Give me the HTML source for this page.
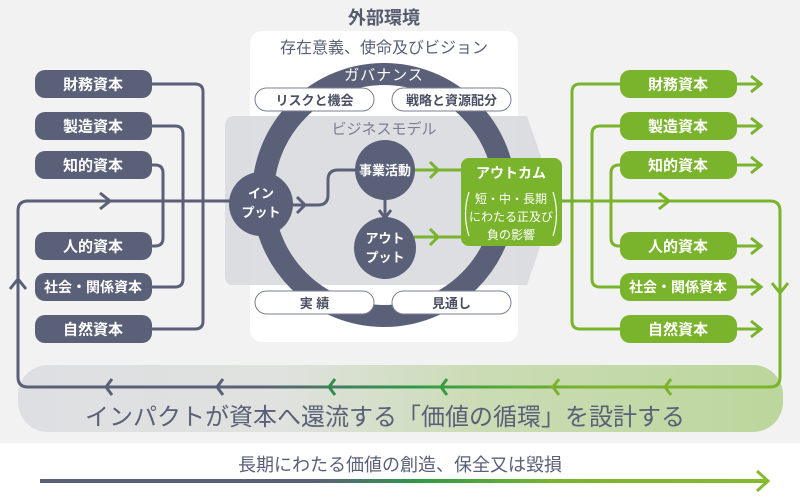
<!DOCTYPE html>
<html><head><meta charset="utf-8"><style>
html,body{margin:0;padding:0;background:#fff}
svg{display:block}
text{font-family:"Liberation Sans","Noto Sans CJK JP",sans-serif}
</style></head><body>
<svg width="800" height="500" viewBox="0 0 800 500" xmlns="http://www.w3.org/2000/svg">
<defs>
<linearGradient id="loop" x1="18" y1="0" x2="780" y2="0" gradientUnits="userSpaceOnUse">
<stop offset="0" stop-color="#5a6078"/><stop offset="0.32" stop-color="#5a6078"/>
<stop offset="0.52" stop-color="#2e9a48"/><stop offset="0.75" stop-color="#7ab32c"/><stop offset="1" stop-color="#7ab32c"/>
</linearGradient>
<linearGradient id="strip" x1="18" y1="0" x2="783" y2="0" gradientUnits="userSpaceOnUse">
<stop offset="0" stop-color="#dedfe3"/><stop offset="0.35" stop-color="#dfe2de"/>
<stop offset="0.6" stop-color="#cbdcb5"/><stop offset="1" stop-color="#bcd69c"/>
</linearGradient>
<linearGradient id="barr" x1="40" y1="0" x2="770" y2="0" gradientUnits="userSpaceOnUse">
<stop offset="0" stop-color="#5a6078"/><stop offset="0.38" stop-color="#5a6078"/>
<stop offset="0.52" stop-color="#2e9a48"/><stop offset="0.7" stop-color="#7ab32c"/><stop offset="1" stop-color="#86bb30"/>
</linearGradient>
</defs>
<rect x="0" y="0" width="800" height="443" fill="#f2f2f2"/>
<text x="384" y="24" font-size="18" font-weight="bold" fill="#555b6e" text-anchor="middle">外部環境</text>
<rect x="250" y="31" width="268" height="311" rx="12" fill="#fff"/>
<text x="384" y="53" font-size="16" fill="#5a6078" text-anchor="middle">存在意義、使命及びビジョン</text>

<rect x="18" y="365" width="765" height="67" rx="30" fill="url(#strip)"/>

<path d="M235,116 L527,116 L556,200 L527,285 L232,285 Q225,285 225,275 L225,126 Q225,116 235,116 Z" fill="#d9dadf" opacity="0.9"/>

<circle cx="384" cy="195" r="121" fill="none" stroke="#5a6078" stroke-width="22"/>
<text x="384" y="80" font-size="15" fill="#fff" text-anchor="middle" letter-spacing="1">ガバナンス</text>
<text x="384" y="134" font-size="15" fill="#7a7f90" text-anchor="middle">ビジネスモデル</text>

<rect x="255" y="88" width="119" height="23" rx="11.5" fill="#fff" stroke="#7a7f90" stroke-width="1"/>
<text x="314.5" y="105" font-size="13" font-weight="bold" fill="#4a4f62" text-anchor="middle">リスクと機会</text>
<rect x="392" y="88" width="119" height="23" rx="11.5" fill="#fff" stroke="#7a7f90" stroke-width="1"/>
<text x="451.5" y="105" font-size="13" font-weight="bold" fill="#4a4f62" text-anchor="middle">戦略と資源配分</text>
<rect x="255" y="291" width="119" height="23" rx="11.5" fill="#fff" stroke="#7a7f90" stroke-width="1"/>
<text x="314.5" y="308" font-size="13" font-weight="bold" fill="#4a4f62" text-anchor="middle">実 績</text>
<rect x="392" y="291" width="119" height="23" rx="11.5" fill="#fff" stroke="#7a7f90" stroke-width="1"/>
<text x="451.5" y="308" font-size="13" font-weight="bold" fill="#4a4f62" text-anchor="middle">見通し</text>

<g fill="none" stroke="#5a6078" stroke-width="3">
<path d="M150,84 L195,84 Q203,84 203,92 L203,321 Q203,329 195,329 L150,329"/>
<path d="M150,126 L175,126 Q183,126 183,134 L183,279 Q183,287 175,287 L150,287"/>
<path d="M150,165 L155,165 Q163,165 163,173 L163,238 Q163,246 155,246 L150,246"/>
</g>
<g fill="#5a6078">
<rect x="35" y="70" width="117" height="28" rx="10"/>
<rect x="35" y="112" width="117" height="28" rx="10"/>
<rect x="35" y="151" width="117" height="28" rx="10"/>
<rect x="35" y="232" width="117" height="28" rx="10"/>
<rect x="35" y="273" width="117" height="28" rx="10"/>
<rect x="35" y="315" width="117" height="28" rx="10"/>
</g>
<g fill="#fff" font-size="15" font-weight="bold" text-anchor="middle">
<text x="93" y="89.5">財務資本</text><text x="93" y="131.5">製造資本</text><text x="93" y="170.5">知的資本</text>
<text x="93" y="251.5">人的資本</text><text x="93" y="292" font-size="14">社会・関係資本</text><text x="93" y="334.5">自然資本</text>
</g>

<g fill="none" stroke="#7ab32c" stroke-width="3">
<path d="M625,84 L580,84 Q572,84 572,92 L572,321 Q572,329 580,329 L625,329"/>
<path d="M625,126 L600,126 Q592,126 592,134 L592,279 Q592,287 600,287 L625,287"/>
<path d="M625,165 L619,165 Q611,165 611,173 L611,238 Q611,246 619,246 L625,246"/>
<path d="M735,84 H762 M735,126 H762 M735,165 H762 M735,246 H762 M735,287 H762 M735,329 H762"/>
<path d="M751,76 L761,84 L751,92 M751,118 L761,126 L751,134 M751,157 L761,165 L751,173 M751,238 L761,246 L751,254 M751,279 L761,287 L751,295 M751,321 L761,329 L751,337"/>
</g>
<g fill="#7ab32c">
<rect x="620" y="70" width="117" height="28" rx="10"/>
<rect x="620" y="112" width="117" height="28" rx="10"/>
<rect x="620" y="151" width="117" height="28" rx="10"/>
<rect x="620" y="232" width="117" height="28" rx="10"/>
<rect x="620" y="273" width="117" height="28" rx="10"/>
<rect x="620" y="315" width="117" height="28" rx="10"/>
</g>
<g fill="#fff" font-size="15" font-weight="bold" text-anchor="middle">
<text x="678" y="89.5">財務資本</text><text x="678" y="131.5">製造資本</text><text x="678" y="170.5">知的資本</text>
<text x="678" y="251.5">人的資本</text><text x="678" y="292" font-size="14">社会・関係資本</text><text x="678" y="334.5">自然資本</text>
</g>

<path d="M562,201 L770,201 Q780,201 780,211 L780,377 Q780,387 770,387 L28,387 Q18,387 18,377 L18,211 Q18,201 28,201 L232,201" fill="none" stroke="url(#loop)" stroke-width="3"/>
<path d="M772,283 L780,293 L788,283" fill="none" stroke="#7ab32c" stroke-width="3"/>
<path d="M10,289 L18,279 L26,289" fill="none" stroke="#5a6078" stroke-width="3"/>
<path d="M100,193 L110,201 L100,209" fill="none" stroke="#5a6078" stroke-width="3"/>
<path d="M659,193 L669,201 L659,209" fill="none" stroke="#7ab32c" stroke-width="3"/>
<g fill="none" stroke-width="3">
<path d="M112,379 L106,387 L112,395" stroke="#5a6078"/>
<path d="M223,379 L217,387 L223,395" stroke="#5a6078"/>
<path d="M335,379 L329,387 L335,395" stroke="#2f8f4a"/>
<path d="M447,379 L441,387 L447,395" stroke="#3a9a40"/>
<path d="M559,379 L553,387 L559,395" stroke="#7ab32c"/>
<path d="M671,379 L665,387 L671,395" stroke="#7ab32c"/>
</g>
<text x="385" y="425" font-size="24" fill="#5a6078" text-anchor="middle">インパクトが資本へ還流する「価値の循環」を設計する</text>

<path d="M290,205 L318,205 Q328,205 328,195 L328,180 Q328,170 338,170 L360,170" fill="none" stroke="#5a6078" stroke-width="3"/>
<path d="M297,197 L305,205 L297,213" fill="none" stroke="#5a6078" stroke-width="3"/>
<path d="M385,198 L385,218 M379,210 L385,218 L391,210" fill="none" stroke="#5a6078" stroke-width="3"/>
<path d="M414,170 L462,170 M430,162 L438,170 L430,178 M414,237 L462,237 M430,229 L438,237 L430,245" fill="none" stroke="#7ab32c" stroke-width="3"/>

<circle cx="261" cy="204" r="32" fill="#5a6078"/>
<text x="261" y="198" font-size="13" font-weight="bold" fill="#fff" text-anchor="middle">イン</text>
<text x="261" y="217" font-size="13" font-weight="bold" fill="#fff" text-anchor="middle">プット</text>
<circle cx="385" cy="170" r="30" fill="#5a6078"/>
<text x="385" y="175" font-size="13" font-weight="bold" fill="#fff" text-anchor="middle">事業活動</text>
<circle cx="385" cy="248" r="31" fill="#5a6078"/>
<text x="385" y="243" font-size="13" font-weight="bold" fill="#fff" text-anchor="middle">アウト</text>
<text x="385" y="262" font-size="13" font-weight="bold" fill="#fff" text-anchor="middle">プット</text>

<rect x="461" y="158" width="101" height="88" rx="8" fill="#7ab32c"/>
<text x="511" y="178" font-size="14" font-weight="bold" fill="#fff" text-anchor="middle">アウトカム</text>
<g font-size="12" fill="#fff" text-anchor="middle">
<text x="511" y="203">短・中・長期</text><text x="511" y="221">にわたる正及び</text><text x="511" y="239">負の影響</text>
</g>
<path d="M469,192 Q462,214 469,236 M553,192 Q560,214 553,236" fill="none" stroke="#fff" stroke-width="1.2"/>

<text x="400" y="471" font-size="18" fill="#5a6078" text-anchor="middle">長期にわたる価値の創造、保全又は毀損</text>
<path d="M40,481 L766,481" stroke="url(#barr)" stroke-width="4"/>
<path d="M757,471 L768,481 L757,491" fill="none" stroke="#86bb30" stroke-width="3"/>
</svg>
</body></html>
